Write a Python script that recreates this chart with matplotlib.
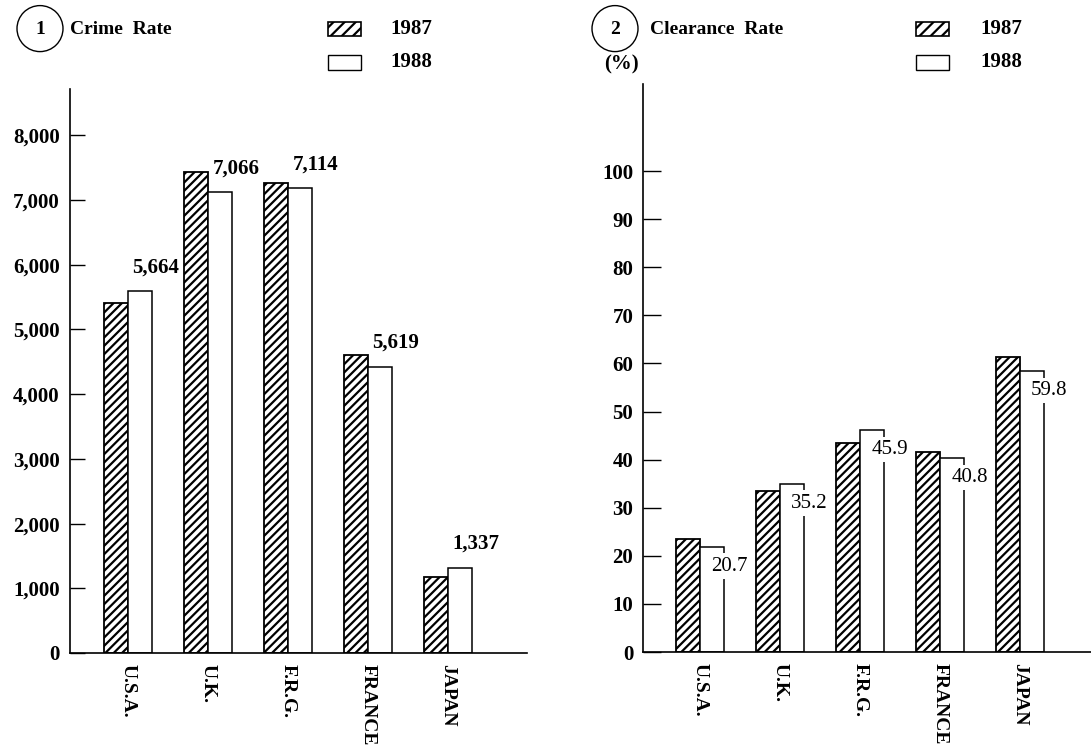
import matplotlib
matplotlib.use("Agg")
import matplotlib.pyplot as plt
from matplotlib.patches import Ellipse, Rectangle
import numpy as np

# --------------------
# Data
# --------------------
countries = ["U.S.A.", "U.K.", "F.R.G.", "FRANCE", "JAPAN"]

crime_1987 = [5410, 7430, 7265, 4610, 1175]
crime_1988 = [5590, 7125, 7185, 4425, 1320]
crime_labels = ["5,664", "7,066", "7,114", "5,619", "1,337"]

clear_1987 = [23.5, 33.5, 43.5, 41.5, 61.3]
clear_1988 = [21.9, 35.0, 46.1, 40.4, 58.4]
clear_labels = ["20.7", "35.2", "45.9", "40.8", "59.8"]

crime_ticks = [0, 1000, 2000, 3000, 4000, 5000, 6000, 7000, 8000]
clear_ticks = [0, 10, 20, 30, 40, 50, 60, 70, 80, 90, 100]

# --------------------
# Style
# --------------------
W, H = 1091, 750
plt.rcParams["font.family"] = ["Liberation Serif", "DejaVu Serif"]
plt.rcParams["font.weight"] = "bold"
plt.rcParams["hatch.linewidth"] = 1.6
HATCH = "////"
FS = 15

fig = plt.figure(figsize=(W / 100, H / 100), dpi=100)
fig.patch.set_facecolor("white")


def fx(x):
    return x / W


def fy(y):
    return 1 - y / H


def make_axes(x0, x1, ytop, ybot):
    return fig.add_axes([fx(x0), fy(ybot), fx(x1) - fx(x0), fy(ytop) - fy(ybot)])


def style_axes(ax, ticks, fmt, ticklen):
    for s in ["top", "right"]:
        ax.spines[s].set_visible(False)
    for s in ["left", "bottom"]:
        ax.spines[s].set_linewidth(1.2)
    ax.set_yticks(ticks)
    ax.set_yticklabels([fmt(t) for t in ticks], fontsize=FS, fontweight="bold")
    ax.tick_params(axis="y", direction="in", length=ticklen, width=1.0, pad=7)
    x = np.arange(len(countries))
    ax.set_xticks(x)
    ax.set_xticklabels(countries, rotation=-90, fontsize=14, fontweight="bold",
                       va="top", ha="center")
    ax.tick_params(axis="x", length=0, pad=8)


def draw_bars(ax, v87, v88, w=0.3):
    x = np.arange(len(countries))
    ax.bar(x, v87, width=-w, align="edge", facecolor="white", edgecolor="black",
           hatch=HATCH, linewidth=1.3, zorder=2)
    ax.bar(x, v88, width=w, align="edge", facecolor="white", edgecolor="black",
           linewidth=1.1, zorder=2)
    return x + w


# --------------------
# Panel 1: Crime Rate
# --------------------
ax1 = make_axes(69.5, 526.6, 88.6, 653)
right_edges = draw_bars(ax1, crime_1987, crime_1988)
ax1.set_xlim(-0.7275, 4.986)
ax1.set_ylim(0, 8723)
style_axes(ax1, crime_ticks, lambda t: f"{t:,}", 11)
for xe, v, lab in zip(right_edges, crime_1988, crime_labels):
    ax1.annotate(lab, (xe, v), xytext=(3, 10), textcoords="offset points",
                 ha="center", va="bottom", fontsize=FS, fontweight="bold")

# --------------------
# Panel 2: Clearance Rate
# --------------------
ax2 = make_axes(643, 1091, 84, 652)
right_edges = draw_bars(ax2, clear_1987, clear_1988)
ax2.set_xlim(-0.7125, 4.89)
ax2.set_ylim(0, 118.1)
style_axes(ax2, clear_ticks, lambda t: f"{t}", 13)
for xe, v, lab in zip(right_edges, clear_1988, clear_labels):
    ax2.annotate(lab, (xe, v), xytext=(4, -14), textcoords="offset points",
                 ha="center", va="center", fontsize=FS, fontweight="normal",
                 bbox=dict(boxstyle="square,pad=0.15", fc="white", ec="none"),
                 zorder=3)

# --------------------
# Headers and legends
# --------------------
def header(cx, num, title, tx):
    fig.add_artist(Ellipse((fx(cx), fy(28.6)), 46 / W, 46 / H, transform=fig.transFigure,
                           fc="none", ec="black", lw=1.0))
    fig.text(fx(cx), fy(29), num, ha="center", va="center", fontsize=14, fontweight="bold")
    fig.text(fx(tx), fy(29), title, ha="left", va="center", fontsize=14, fontweight="bold")


def legend(bx, tx):
    fig.add_artist(Rectangle((fx(bx), fy(36)), 33 / W, 14 / H, transform=fig.transFigure,
                             fc="white", ec="black", lw=1.2, hatch="///"))
    fig.add_artist(Rectangle((fx(bx), fy(70)), 33 / W, 15 / H, transform=fig.transFigure,
                             fc="white", ec="black", lw=1.0))
    fig.text(fx(tx), fy(29), "1987", ha="left", va="center", fontsize=FS, fontweight="bold")
    fig.text(fx(tx), fy(62), "1988", ha="left", va="center", fontsize=FS, fontweight="bold")


header(40, "1", "Crime  Rate", 70)
legend(328, 390)
header(615, "2", "Clearance  Rate", 650)
legend(916, 980)
fig.text(fx(621), fy(64), "(%)", ha="center", va="center", fontsize=FS, fontweight="bold")

fig.savefig("out.png", dpi=100, facecolor="white")
